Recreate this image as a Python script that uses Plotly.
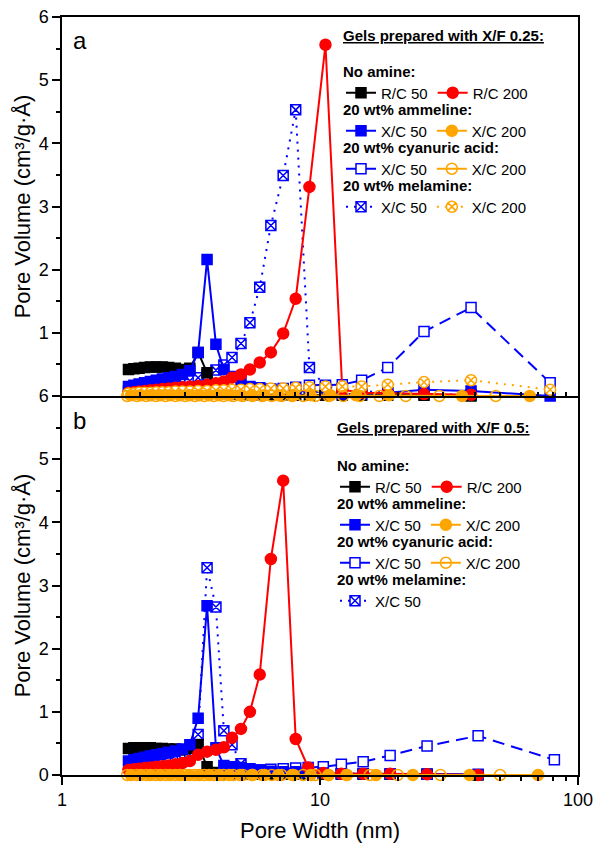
import plotly.graph_objects as go

# ---------------- data (pore width in nm, pore volume in cm3/g/A) ----------------
# pore-width grids
GA = [1.81, 1.90, 1.99, 2.09, 2.20, 2.32, 2.45, 2.59, 2.75, 2.93, 3.13, 3.37, 3.65, 3.95, 4.24,
      4.56, 4.94, 5.35, 5.84, 6.45, 7.20, 8.05, 9.10, 10.5, 12.2, 14.5, 18.3, 25.3, 38.5, 78.0]
GB = [1.81, 1.90, 1.99, 2.09, 2.20, 2.32, 2.45, 2.59, 2.75, 2.93, 3.13, 3.37, 3.65, 3.95, 4.24,
      4.56, 4.94, 5.35, 5.84, 6.45, 7.20, 8.05, 9.0, 10.3, 12.1, 14.7, 18.7, 26.0, 41.0, 81.0]
X_ORANGE_FILLED_A = [1.85, 2.02, 2.2, 2.4, 2.62, 2.86, 3.12, 3.4, 3.72, 4.06, 4.45, 4.9, 5.45,
                     6.1, 6.9, 7.9, 9.2, 11.0, 13.8, 18.5, 35.5, 65.0]
X_ORANGE_OPEN_A = [1.79, 1.95, 2.12, 2.31, 2.52, 2.75, 3.0, 3.27, 3.56, 3.88, 4.23, 4.61, 5.02,
                   5.47, 5.97, 6.5, 7.1, 7.8, 8.6, 9.6, 10.8, 12.3, 14.3, 17.0, 21.5, 29.0, 48.0]
X_ORANGE_FILLED_B = [1.85, 2.02, 2.2, 2.4, 2.62, 2.86, 3.12, 3.4, 3.72, 4.06, 4.45, 4.9, 5.45,
                     6.1, 6.9, 7.9, 9.2, 10.8, 12.7, 16.5, 22.9, 38.0, 70.0]
X_ORANGE_OPEN_B = [1.79, 1.95, 2.12, 2.31, 2.52, 2.75, 3.0, 3.27, 3.56, 3.88, 4.23, 4.61, 5.02,
                   5.47, 5.97, 6.5, 7.1, 7.8, 8.6, 9.6, 10.8, 12.7, 15.6, 20.0, 29.3, 49.9]

# panel a  (X/F 0.25)
rc50_a = [0.42, 0.43, 0.44, 0.45, 0.46, 0.46, 0.46, 0.45, 0.44, 0.42, 0.44, 0.69, 0.37, 0.08, 0.04,
          0.03, 0.03, 0.02, 0.02, 0.02, 0.02, 0.01, 0.01, 0.01, 0.01, 0.01, 0.01, 0.01, 0.0]
rc200_a = [0.05, 0.06, 0.07, 0.08, 0.09, 0.10, 0.11, 0.12, 0.13, 0.14, 0.15, 0.16, 0.18, 0.20, 0.23,
           0.29, 0.34, 0.42, 0.53, 0.69, 0.99, 1.54, 3.31, 5.56, 0.10, 0.05, 0.04, 0.03, 0.02]
amm50_a = [0.15, 0.17, 0.19, 0.21, 0.23, 0.25, 0.27, 0.29, 0.31, 0.34, 0.40, 0.69, 2.16, 0.82, 0.42,
           0.31, 0.23, 0.15, 0.13, 0.10, 0.09, 0.08, 0.07, 0.06, 0.03, 0.03, 0.05, 0.10, 0.08, 0.0]
amm200_a = [0.01, 0.01, 0.01, 0.01, 0.01, 0.01, 0.01, 0.01, 0.01, 0.01, 0.01, 0.01, 0.01, 0.01,
            0.01, 0.01, 0.01, 0.01, 0.01, 0.01, 0.0, 0.0]
cya50_a = [0.08, 0.08, 0.09, 0.10, 0.11, 0.12, 0.14, 0.17, 0.17, 0.18, 0.25, 0.45, 1.02, 1.40, 0.21]
cya200_a = [0.0] * 27
mel50_a = [0.08, 0.09, 0.10, 0.11, 0.12, 0.13, 0.14, 0.16, 0.18, 0.20, 0.24, 0.29, 0.34, 0.41, 0.49,
           0.61, 0.83, 1.16, 1.72, 2.70, 3.49, 4.53, 0.45, 0.15, 0.12, 0.08, 0.05, 0.03, 0.02]
mel200_a = [0.04, 0.04, 0.05, 0.05, 0.05, 0.06, 0.06, 0.06, 0.07, 0.07, 0.07, 0.08, 0.08, 0.09, 0.09,
            0.10, 0.10, 0.11, 0.11, 0.12, 0.12, 0.13, 0.14, 0.15, 0.15, 0.15, 0.18, 0.22, 0.25, 0.10]

# panel b  (X/F 0.5)
rc50_b = [0.42, 0.43, 0.43, 0.43, 0.43, 0.42, 0.42, 0.41, 0.41, 0.40, 0.42, 0.48, 0.13, 0.04, 0.02,
          0.02, 0.01, 0.01, 0.01, 0.01, 0.01, 0.01, 0.01, 0.01, 0.01, 0.01, 0.01, 0.01, 0.0]
rc200_b = [0.08, 0.09, 0.10, 0.11, 0.12, 0.13, 0.14, 0.15, 0.17, 0.19, 0.22, 0.32, 0.37, 0.40, 0.44,
           0.59, 0.73, 1.00, 1.59, 3.42, 4.66, 0.57, 0.12, 0.03, 0.02, 0.02, 0.02, 0.01, 0.0]
amm50_b = [0.22, 0.24, 0.26, 0.28, 0.30, 0.32, 0.34, 0.36, 0.38, 0.41, 0.48, 0.90, 2.68, 0.43, 0.15,
           0.13, 0.12, 0.10, 0.08, 0.06, 0.05, 0.05, 0.04, 0.03, 0.02, 0.02, 0.02, 0.01, 0.01]
amm200_b = [0.0] * 23
cya50_b = [0.07, 0.08, 0.09, 0.10, 0.11, 0.12, 0.13, 0.17, 0.21, 0.31, 0.46, 0.62, 0.24]
cya200_b = [0.0] * 26
mel50_b = [0.12, 0.14, 0.15, 0.17, 0.19, 0.21, 0.24, 0.32, 0.64, 3.28, 2.66, 0.70, 0.48, 0.18, 0.07,
           0.06, 0.05, 0.04, 0.03, 0.03, 0.02, 0.02, 0.02, 0.01, 0.01]

X_TICKS = [1, 10, 100]
X_MINOR = [2, 3, 4, 5, 6, 7, 8, 9, 20, 30, 40, 50, 60, 70, 80, 90]

BLACK, RED, BLUE, ORANGE = "#000000", "#FF0000", "#0000FF", "#FFA500"
FONT = "Liberation Sans, Arial, sans-serif"
W, H = 595, 845
ML, MR, MT, MB = 62, 17, 17, 70

fig = go.Figure()


def add(x, y, name, color, symbol, fill, dash, axes, legend, size=10):
    xa, ya = axes
    fig.add_trace(go.Scatter(
        x=x, y=y, name=name, mode="lines+markers", xaxis=xa, yaxis=ya, legend=legend,
        line=dict(color=color, width=2, dash=dash),
        marker=dict(symbol=symbol, size=size, color=(color if fill else "white"),
                    line=dict(color=color, width=1.5)),
        cliponaxis=False, showlegend=True))


A = ("x2", "y2")
B = ("x", "y")
# panel a
add(GA[:29], mel50_a, "X/C 50", BLUE, "square-x", False, "2px,6px", A, "legend4")
add(GA[15:], cya50_a, "X/C 50", BLUE, "square", False, "12px,7px", A, "legend3")
add(GA[:29], rc50_a, "R/C 50", BLACK, "square", True, "solid", A, "legend")
add(GA, amm50_a, "X/C 50", BLUE, "square", True, "solid", A, "legend2")
add(GA[:29], rc200_a, "R/C 200", RED, "circle", True, "solid", A, "legend", 11)
add(GA, mel200_a, "X/C 200", ORANGE, "circle-x", False, "2px,6px", A, "legend4", 11)
add(X_ORANGE_FILLED_A, amm200_a, "X/C 200", ORANGE, "circle", True, "solid", A, "legend2", 11)
add(X_ORANGE_OPEN_A, cya200_a, "X/C 200", ORANGE, "circle-open", True, "solid", A, "legend3", 11)
# panel b
add(GB[3:28], mel50_b, "X/C 50", BLUE, "square-x", False, "2px,6px", B, "legend8")
add(GB[17:], cya50_b, "X/C 50", BLUE, "square", False, "12px,7px", B, "legend7")
add(GB[:29], rc50_b, "R/C 50", BLACK, "square", True, "solid", B, "legend5")
add(GB[:29], amm50_b, "X/C 50", BLUE, "square", True, "solid", B, "legend6")
add(GB[:29], rc200_b, "R/C 200", RED, "circle", True, "solid", B, "legend5", 11)
add(X_ORANGE_FILLED_B, amm200_b, "X/C 200", ORANGE, "circle", True, "solid", B, "legend6", 11)
add(X_ORANGE_OPEN_B, cya200_b, "X/C 200", ORANGE, "circle-open", True, "solid", B, "legend7", 11)


def leg(title, xpx, ypx):
    return dict(title=dict(text="<b>" + title + "</b>", side="top",
                           font=dict(family=FONT, size=15, color="black")),
                orientation="h", xref="container", yref="container",
                x=xpx / W, y=1 - ypx / H, xanchor="left", yanchor="top",
                bgcolor="rgba(0,0,0,0)", borderwidth=0, itemwidth=30,
                font=dict(family=FONT, size=15, color="black"), traceorder="normal")


titles = ["No amine:", "20 wt% ammeline:", "20 wt% cyanuric acid:", "20 wt% melamine:"]
legends = {}
for i, t in enumerate(titles):
    legends["legend" if i == 0 else f"legend{i + 1}"] = leg(t, 341, 57 + 38 * i)
    legends[f"legend{i + 5}"] = leg(t, 335, 451 + 38 * i)

axis_common = dict(showline=True, linecolor="black", linewidth=1.5, showgrid=False,
                   zeroline=False, tickcolor="black", tickwidth=1.5,
                   tickfont=dict(family=FONT, size=18, color="black"))
ytitle = dict(text="Pore Volume (cm³/g·Å)", font=dict(family=FONT, size=22, color="black"),
              standoff=2)

PW, PH = W - ML - MR, H - MT - MB


def px_x(p):
    return (p - ML) / PW


def px_y(p):
    return (H - MB - p) / PH


fig.update_layout(
    width=W, height=H, plot_bgcolor="white", paper_bgcolor="white",
    margin=dict(l=ML, r=MR, t=MT, b=MB, autoexpand=False),
    font=dict(family=FONT, color="black"),
    xaxis=dict(type="log", range=[0, 2], anchor="y", domain=[0, 1], tickmode="array",
               tickvals=X_TICKS, ticktext=[str(v) for v in X_TICKS], ticks="outside", ticklen=8,
               minor=dict(tickmode="array", tickvals=X_MINOR, ticks="outside", ticklen=4,
                          tickcolor="black", tickwidth=1.5),
               **axis_common),
    yaxis=dict(range=[0, 6], domain=[0, 0.5], anchor="x", tickmode="array",
               tickvals=[0, 1, 2, 3, 4, 5, 6], ticks="outside", ticklen=8, mirror=True,
               minor=dict(dtick=0.5, ticks="outside", ticklen=4, tickcolor="black", tickwidth=1.5),
               title=ytitle, **axis_common),
    xaxis2=dict(type="log", range=[0, 2], anchor="y2", domain=[0, 1],
                tickmode="array", tickvals=X_TICKS, showticklabels=False, ticks="inside",
                ticklen=6, mirror=True,
                minor=dict(tickmode="array", tickvals=X_MINOR, ticks="inside", ticklen=4,
                           tickcolor="black", tickwidth=1.5),
                **axis_common),
    yaxis2=dict(range=[0, 6], domain=[0.5, 1], anchor="x2", tickmode="array",
                tickvals=[1, 2, 3, 4, 5, 6], ticks="outside", ticklen=8, mirror=True,
                minor=dict(dtick=0.5, ticks="outside", ticklen=4, tickcolor="black", tickwidth=1.5),
                title=ytitle, **axis_common),
    annotations=[
        dict(text="Pore Width (nm)", xref="paper", yref="paper", x=0.5, y=px_y(830),
             xanchor="center", yanchor="middle", showarrow=False,
             font=dict(family=FONT, size=22, color="black")),
        dict(text="a", xref="paper", yref="paper", x=px_x(71), y=px_y(40), xanchor="left",
             yanchor="middle", showarrow=False, font=dict(family=FONT, size=24, color="black")),
        dict(text="b", xref="paper", yref="paper", x=px_x(71), y=px_y(420), xanchor="left",
             yanchor="middle", showarrow=False, font=dict(family=FONT, size=24, color="black")),
        dict(text="<b><u>Gels prepared with X/F 0.25:</u></b>", xref="paper", yref="paper",
             x=px_x(341), y=px_y(35), xanchor="left", yanchor="middle", showarrow=False,
             font=dict(family=FONT, size=15, color="black")),
        dict(text="<b><u>Gels prepared with X/F 0.5:</u></b>", xref="paper", yref="paper",
             x=px_x(335), y=px_y(428), xanchor="left", yanchor="middle", showarrow=False,
             font=dict(family=FONT, size=15, color="black")),
    ],
    **legends,
)

fig.write_html("out.html", config={"displayModeBar": False},
               post_script="document.body.style.margin='0px';")
